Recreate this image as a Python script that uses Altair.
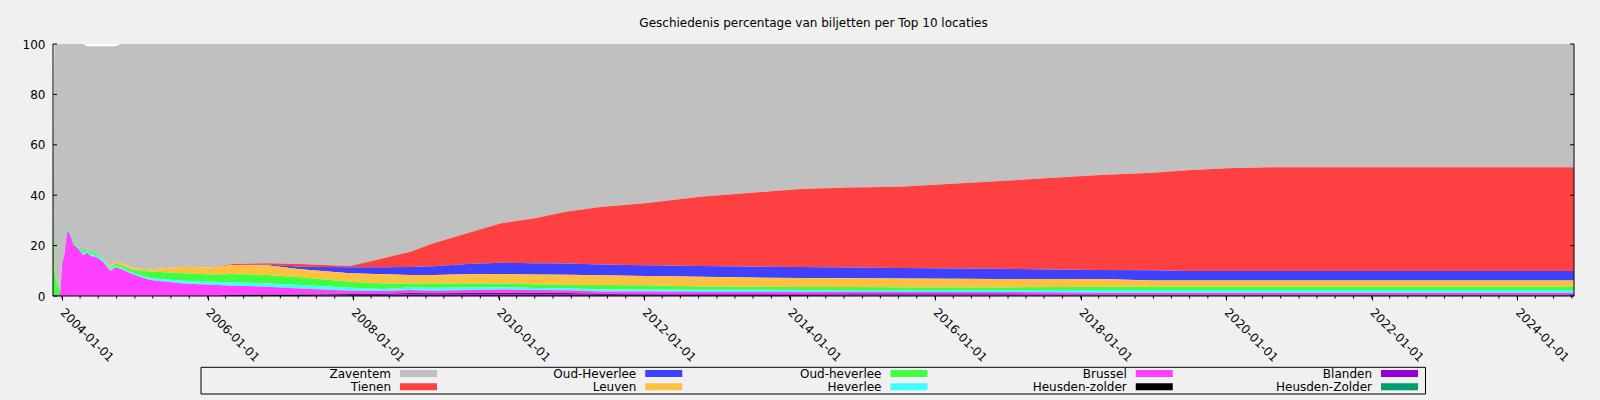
import altair as alt
import pandas as pd

title_text = "Geschiedenis percentage van biljetten per Top 10 locaties"

dates = [
    "2003-11-17", "2003-11-24", "2003-12-08", "2003-12-23", "2004-01-02", "2004-01-12",
    "2004-01-27", "2004-02-12", "2004-02-27", "2004-03-23", "2004-04-17", "2004-05-07",
    "2004-05-22", "2004-06-27", "2004-07-27", "2004-08-31", "2004-09-25", "2004-10-20",
    "2004-12-24", "2005-03-19", "2005-09-01", "2006-01-20", "2006-05-10", "2006-10-27",
    "2007-04-11", "2007-12-17", "2008-06-01", "2008-10-15", "2009-02-07", "2009-07-27",
    "2010-01-09", "2010-06-24", "2010-12-11", "2011-05-26", "2012-01-06", "2012-10-09",
    "2014-02-23", "2014-10-31", "2015-07-08", "2016-11-22", "2018-04-08", "2018-12-31",
    "2019-06-19", "2020-01-05", "2020-09-13", "2024-10-12",
]

zaventem = [0, 90, 95.5, 97.5, 85.5, 83, 73.2, 74.3, 78, 80.3, 81.9, 80.6, 81.3, 82.2, 84.5,
            87.5, 85.5, 86.6, 89.0, 89.4, 88.4, 88.7, 87.3, 87.0, 87.3, 88.1, 85.0, 82.4, 79.1,
            75.1, 71.2, 69.2, 66.5, 64.7, 63.2, 60.6, 57.5, 56.9, 56.6, 54.4, 52.0, 51.1, 50.1,
            49.3, 48.9, 48.9]
tienen = [0] * 22 + [0.4, 0.5, 1.1, 0.5, 3.6, 6.1, 9.1, 12.2, 15.6, 17.8, 20.6, 22.8, 24.6,
                     27.5, 31.0, 31.8, 32.3, 34.8, 37.7, 38.7, 40.0, 40.8, 41.2, 41.2]
oud_heverlee_b = [0] * 22 + [0, 0.3, 1.0, 2.4, 2.8, 3.2, 3.5, 4.1, 4.5, 4.5, 4.5, 4.3, 4.3,
                             4.3, 4.4, 4.3, 4.2, 4.1, 3.6, 4.0, 3.7, 3.7, 3.7, 3.7]
leuven = [0, 0, 0, 0, 0.5, 0, 0, 0, 0, 0, 0, 0, 0, 0, 0, 0.5, 0.8, 1.0, 0.7, 0.9, 2.6, 2.8,
          3.6, 3.9, 3.2, 3.3, 3.6, 3.3, 3.3, 3.6, 3.7, 3.8, 3.9, 3.8, 3.6, 3.8, 3.5, 3.4, 3.4,
          3.3, 3.0, 2.5, 2.5, 2.5, 2.5, 2.5]
oud_heverlee_g = [41, 10, 4, 1.5, 1, 1, 0.5, 0.7, 1, 0.5, 1.2, 0.6, 1, 0.8, 0.5, 0.6, 0.9, 1.0,
                  1.2, 2.7, 2.9, 2.8, 3.3, 3.3, 3.0, 2.4, 2.2, 1.6, 1.7, 1.6, 1.5, 1.5, 1.4, 1.8,
                  1.7, 1.3, 1.2, 1.2, 1.1, 1.0, 1.3, 1.3, 1.3, 1.3, 1.3, 1.3]
heverlee = [0, 0, 0, 0, 0, 0, 0.3, 0.5, 0.5, 0.4, 0.7, 0.6, 0.8, 0.8, 0.7, 0.6, 0.5, 0.6, 0.6,
            0.7, 1.1, 1.2, 1.3, 1.3, 1.4, 1.2, 0.8, 1.0, 1.2, 1.0, 0.9, 0.8, 0.8, 0.8, 0.8, 0.8,
            0.7, 0.7, 0.7, 0.8, 1.1, 1.1, 1.1, 1.1, 1.1, 1.1]
brussel = [0, 0, 0.5, 1, 13, 16, 26, 24.5, 20.5, 18.8, 16.2, 17.3, 16, 15.3, 13.4, 9.9, 11.4,
           10.8, 8.5, 6.3, 5.0, 4.5, 3.7, 3.2, 2.5, 1.4, 1.2, 1.3, 1.1, 1.3, 1.5, 1.3, 1.2, 1.0,
           1.1, 1.0, 1.0, 0.8, 0.8, 0.7, 0.8, 0.8, 0.8, 0.8, 0.8, 0.8]
heusden_zolder_k = [0] * 22 + [0.4, 0.5, 0.5, 0.3, 0.3, 0.4, 0.3, 0.4, 0.4, 0.4, 0.4, 0.3, 0.2,
                               0.2, 0.2, 0.2, 0.2, 0.2, 0.1, 0.1, 0.1, 0.1, 0.1, 0.1]
blanden = [0] * 25 + [0.4, 0.5, 0.7, 0.7, 0.7, 0.7, 0.7, 0.7, 0.5, 0.5, 0.5, 0.5, 0.6, 0.6,
                      0.6, 0.3, 0.3, 0.3, 0.3, 0.3, 0.3]
heusden_zolder_t = [0] * 37 + [0.1, 0.1, 0.1, 0.1, 0.1, 0.1, 0.1, 0.1, 0.1]

names = ["Zaventem", "Tienen", "Oud-Heverlee", "Leuven", "Oud-heverlee", "Heverlee",
         "Brussel", "Heusden-zolder", "Blanden", "Heusden-Zolder"]
colors = ["#c0c0c0", "#ff4040", "#4040ff", "#ffc040", "#40ff40", "#40ffff",
          "#ff40ff", "#000000", "#9400d3", "#009e73"]
series = [zaventem, tienen, oud_heverlee_b, leuven, oud_heverlee_g, heverlee,
          brussel, heusden_zolder_k, blanden, heusden_zolder_t]

major_years = list(range(2004, 2025, 2))
y_ticks = [0, 20, 40, 60, 80, 100]
minor_ticks = [d.strftime("%Y-%m-%d") for d in pd.date_range("2004-01-01", "2024-10-01", freq="QS")]

legend_col = [0, 0, 1, 1, 2, 2, 3, 3, 4, 4]
legend_row = [0, 1, 0, 1, 0, 1, 0, 1, 0, 1]

rows = []
for i, (n, vals) in enumerate(zip(names, series)):
    for d, v in zip(dates, vals):
        rows.append({"date": d, "name": n, "value": v, "order": len(names) - i})
df = pd.DataFrame(rows)

W, H = 1521, 252
FONT = "DejaVu Sans"

xscale = alt.Scale(type="utc", nice=False,
                   domain=[alt.DateTime(year=2003, month=11, date=17, utc=True),
                           alt.DateTime(year=2024, month=10, date=12, utc=True)])
yscale = alt.Scale(domain=[0, 100], nice=False, zero=True)
cscale = alt.Scale(domain=names, range=colors)

area = alt.Chart(df).mark_area(interpolate="linear").encode(
    x=alt.X("date:T", scale=xscale, axis=alt.Axis(
        values=[alt.DateTime(year=y, month=1, date=1, utc=True) for y in major_years],
        labelExpr="utcFormat(datum.value, '%Y-%m-%d')", labelAngle=45, labelAlign="left",
        labelBaseline="middle", labelPadding=10, tickSize=4, tickColor="black",
        domain=False, grid=False, title=None, labelFont=FONT, labelFontSize=12,
        labelColor="black", labelOverlap=False, labelFlush=False)),
    y=alt.Y("value:Q", stack="zero", scale=yscale, axis=alt.Axis(
        values=y_ticks, tickSize=0, domain=False, grid=False, title=None, labelPadding=8,
        labelFont=FONT, labelFontSize=12, labelColor="black")),
    color=alt.Color("name:N", scale=cscale, legend=None),
    order=alt.Order("order:Q", sort="ascending"),
)

minor = alt.Chart(pd.DataFrame({"date": minor_ticks})).mark_rule(color="black").encode(
    x=alt.X("date:T", scale=xscale, axis=None),
    y=alt.value(H), y2=alt.value(H + 2.5),
)

ytdf = pd.DataFrame({"v": y_ticks})
ytl = alt.Chart(ytdf).mark_rule(color="black").encode(
    y=alt.Y("v:Q", scale=yscale, axis=None), x=alt.value(0), x2=alt.value(4))
ytr = alt.Chart(ytdf).mark_rule(color="black").encode(
    y=alt.Y("v:Q", scale=yscale, axis=None), x=alt.value(W - 4), x2=alt.value(W))

one = pd.DataFrame({"a": [0]})
frame_left = alt.Chart(one).mark_rule(color="black").encode(
    x=alt.value(0), y=alt.value(0), y2=alt.value(H))
frame_right = alt.Chart(one).mark_rule(color="black").encode(
    x=alt.value(W), y=alt.value(0), y2=alt.value(H))
frame_bottom = alt.Chart(one).mark_rule(color="black").encode(
    y=alt.value(H), x=alt.value(0), x2=alt.value(W))

ldf = pd.DataFrame({"name": names, "col": legend_col, "row": legend_row})
lx = alt.Scale(domain=[0, 4], range=[338, 1319])
ly = alt.Scale(domain=[0, 1], range=[329.5, 342.7])
ltext = alt.Chart(ldf).mark_text(align="right", baseline="middle", font=FONT,
                                 fontSize=12, color="black").encode(
    x=alt.X("col:Q", scale=lx, axis=None),
    y=alt.Y("row:Q", scale=ly, axis=None),
    text="name:N",
)
lswatch = alt.Chart(ldf).mark_rule(strokeWidth=7, strokeCap="butt", xOffset=9, x2Offset=46).encode(
    x=alt.X("col:Q", scale=lx, axis=None),
    x2="col:Q",
    y=alt.Y("row:Q", scale=ly, axis=None),
    color=alt.Color("name:N", scale=cscale, legend=None),
)
lbox = alt.Chart(one).mark_rect(
    fillOpacity=0, stroke="black", strokeWidth=1).encode(
    x=alt.value(148), x2=alt.value(1372.5), y=alt.value(323.3), y2=alt.value(350))

chart = alt.layer(area, minor, ytl, ytr, frame_left, frame_right, frame_bottom,
                  ltext, lswatch, lbox).resolve_scale(
    x="independent", y="independent"
).properties(
    width=W, height=H,
    title=alt.Title(title_text, fontSize=12, font=FONT, fontWeight="normal",
                    color="black", anchor="middle", offset=8),
    padding={"left": 53, "top": 44, "right": 26, "bottom": 104},
    autosize=alt.AutoSizeParams(type="none"),
).configure(background="#f0f0f0", font=FONT).configure_view(
    stroke=None, fill="white")

chart.save("out.html", embed_options={"renderer": "svg", "actions": False})
